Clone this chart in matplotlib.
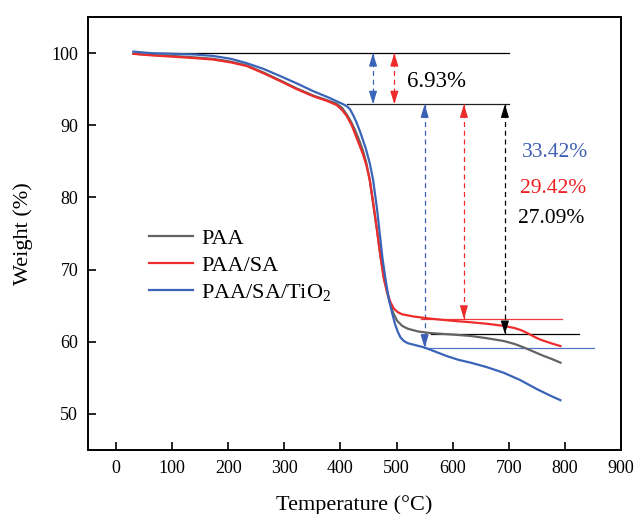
import numpy as np
import matplotlib
matplotlib.use("Agg")
import matplotlib.pyplot as plt

plt.rcParams["font.family"] = ["Liberation Serif", "DejaVu Serif"]
plt.rcParams["mathtext.fontset"] = "custom"
plt.rcParams["mathtext.rm"] = "Liberation Serif"
plt.rcParams["mathtext.it"] = "Liberation Serif:italic"

# ---- data (temperature in C, weight in %) ----
paa_t = [31, 60, 100, 140, 173, 205, 233, 263, 293, 322, 352, 375, 393, 403, 411, 418,
         425, 433, 440, 446, 452, 458, 465, 471, 476, 482, 488, 494, 501, 510, 520, 540,
         560, 600, 632, 660, 691, 710, 727, 745, 760, 777, 792]
paa_w = [99.9, 99.75, 99.6, 99.4, 99.2, 98.8, 98.3, 97.3, 96.2, 95.1, 94.1, 93.5, 93.0,
         92.4, 91.5, 90.6, 89.5, 88.0, 86.5, 84.8, 82.5, 79.2, 75.5, 72.0, 69.6, 67.2,
         65.4, 64.0, 62.9, 62.2, 61.8, 61.4, 61.2, 61.0, 60.8, 60.5, 60.1, 59.7, 59.2,
         58.6, 58.1, 57.6, 57.1]

sa_t = [31, 60, 100, 140, 173, 205, 233, 263, 293, 322, 352, 375, 393, 403, 411, 420,
        430, 440, 446, 452, 458, 465, 471, 477, 483, 489, 495, 502, 510, 530, 560, 600,
        632, 660, 691, 710, 722, 733, 745, 756, 775, 792]
sa_w = [99.9, 99.7, 99.5, 99.3, 99.1, 98.7, 98.2, 97.2, 96.1, 95.0, 94.0, 93.4, 92.8,
        92.1, 91.3, 90.0, 88.0, 86.0, 84.5, 82.5, 79.5, 75.5, 72.0, 68.8, 66.9, 65.5,
        64.6, 64.1, 63.8, 63.5, 63.2, 62.9, 62.7, 62.5, 62.2, 61.9, 61.6, 61.2, 60.7,
        60.3, 59.8, 59.4]

ti_t = [31, 60, 100, 140, 173, 205, 233, 263, 293, 322, 352, 380, 405, 412, 417, 422,
        428, 435, 445, 452, 458, 465, 470, 475, 480, 486, 492, 497, 502, 507, 513, 520,
        535, 550, 570, 590, 610, 632, 660, 691, 720, 751, 772, 792]
ti_w = [100.2, 100.0, 99.9, 99.8, 99.6, 99.2, 98.6, 97.8, 96.8, 95.8, 94.7, 93.8, 92.9,
        92.6, 92.2, 91.5, 90.5, 89.1, 86.8, 84.8, 82.5, 78.5, 75.0, 71.5, 68.8, 66.0,
        64.0, 62.5, 61.4, 60.6, 60.1, 59.8, 59.5, 59.2, 58.6, 58.0, 57.5, 57.1, 56.5,
        55.7, 54.7, 53.4, 52.6, 51.9]

labels = ["PAA", "PAA/SA", "PAA/SA/TiO$_2$"]
colors = ["#636363", "#ee2c2c", "#3a64b8"]

# reference levels and annotations
top_level = 100.0
step_level = 92.9
end_levels = [61.06, 63.17, 59.17]          # PAA, PAA/SA, PAA/SA/TiO2
end_spans = [(562, 825), (543, 795), (548, 852)]
loss_first = "6.93%"
loss_texts = ["27.09%", "29.42%", "33.42%"]
long_arrow_x = [693, 620, 550]
short_arrow_x = [None, 496, 458]

fig = plt.figure(figsize=(6.37, 5.14), dpi=100)
ax = fig.add_axes([0.138, 0.1245, 0.837, 0.8425])

for t, w, lab, c in zip([paa_t, sa_t, ti_t], [paa_w, sa_w, ti_w], labels, colors):
    ax.plot(t, w, color=c, lw=1.6, label=lab, zorder=3, solid_joinstyle="round")

# horizontal guide lines
ax.plot([80, 700], [top_level, top_level], color="black", lw=0.9, zorder=2)
ax.plot([412, 700], [step_level, step_level], color="#222222", lw=0.9, zorder=2)
line_cols = ["black", "#ee3b3b", "#5574c0"]
for lvl, (a, b), c in zip(end_levels, end_spans, line_cols):
    ax.plot([a, b], [lvl, lvl], color=c, lw=0.9, zorder=2)


def dbl_arrow(x, y_top, y_bot, c):
    ax.plot([x, x], [y_top, y_bot], color=c, lw=0.9, ls=(0, (4, 3)), zorder=2)
    for yend, ystart in [(y_top, y_top - 1.4), (y_bot, y_bot + 1.4)]:
        ax.annotate("", xy=(x, yend), xytext=(x, ystart),
                    arrowprops=dict(arrowstyle="-|>,head_length=0.65,head_width=0.2",
                                    color=c, lw=0.9, mutation_scale=12,
                                    shrinkA=0, shrinkB=0))


for x, c in zip(short_arrow_x, colors):
    if x is not None:
        dbl_arrow(x, top_level, step_level, c)
arrow_cols = ["black", "#ee2c2c", "#3a5fb5"]
for x, lvl, c in zip(long_arrow_x, end_levels, arrow_cols):
    dbl_arrow(x, step_level, lvl, c)

ax.text(571, 96.1, loss_first, fontsize=16.5, ha="center", va="center")
ax.text(723, 86.2, loss_texts[2], fontsize=15.5, color="#3f5fb2", va="center")
ax.text(720, 81.25, loss_texts[1], fontsize=15.5, color="#ee2020", va="center")
ax.text(717, 77.1, loss_texts[0], fontsize=15.5, color="black", va="center")

ax.set_xlim(-50, 900)
ax.set_ylim(45, 105)
ax.set_xticks(np.arange(0, 901, 100))
ax.set_yticks(np.arange(50, 101, 10))
ax.tick_params(direction="in", length=6, width=1.2, labelsize=13, pad=7,
               top=False, right=False)
for s in ax.spines.values():
    s.set_linewidth(1.4)

ax.set_xlabel("Temperature (\u00b0C)", fontsize=16, labelpad=13)
ax.set_ylabel("Weight (%)", fontsize=16, labelpad=13)

ax.legend(loc="upper left", bbox_to_anchor=(0.114, 0.512), frameon=False,
          fontsize=16, borderpad=0, borderaxespad=0, handlelength=2.0,
          handletextpad=0.35, labelspacing=0.28)

fig.savefig("out.png", dpi=100)
